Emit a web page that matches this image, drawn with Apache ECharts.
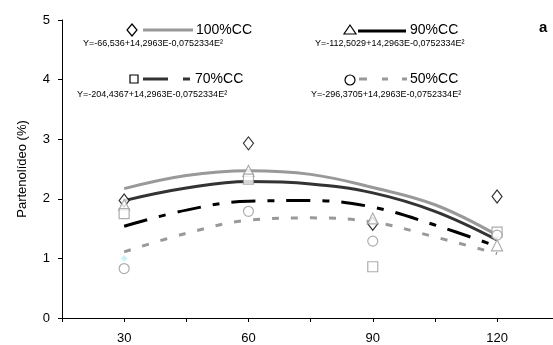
<!DOCTYPE html>
<html>
<head>
<meta charset="utf-8">
<script src="https://cdn.jsdelivr.net/npm/echarts@6/dist/echarts.min.js"></script>
<style>
  html, body { margin: 0; padding: 0; background: #fff; }
  #chart { width: 553px; height: 345px; }
</style>
</head>
<body>
<div id="chart"></div>
<script>
// fitted curves
const fitX = [30, 45, 60, 75, 90, 105, 120]
const fit100 = [2.17, 2.39, 2.47, 2.41, 2.19, 1.90, 1.39]
const fit90 = [1.97, 2.18, 2.29, 2.25, 2.10, 1.79, 1.31]
const fit70 = [1.54, 1.81, 1.96, 1.97, 1.86, 1.56, 1.20]
const fit50 = [1.11, 1.42, 1.64, 1.68, 1.61, 1.36, 1.08]

// observed points
const obsX = [30, 60, 90, 120]
const obs100 = [1.97, 2.93, 1.58, 2.04]
const obs90 = [1.90, 2.47, 1.67, 1.22]
const obs70 = [1.75, 2.33, 0.86, 1.44]
const obs50 = [0.83, 1.79, 1.29, 1.39]
const odd = [[30, 1.0]]

const xLabels = [30, 60, 90, 120]

const pairs = (xs, ys) => xs.map((x, i) => [x, ys[i]])

const font = 'Liberation Sans, Arial, sans-serif'

const curve = (name, ys, color, type) => ({
    name: name,
    type: 'line',
    data: pairs(fitX, ys),
    smooth: 0.4,
    showSymbol: false,
    z: 2,
    lineStyle: { color: color, width: 3, type: type },
    silent: true
})

const dots = (name, ys, symbol, size, color) => ({
    name: name,
    type: 'scatter',
    data: pairs(obsX, ys),
    symbol: symbol,
    symbolSize: size,
    z: 5,
    itemStyle: { color: '#fff', borderColor: color, borderWidth: 1.2 }
})

const legendText = (x, y, text, size, bold) => ({
    type: 'text', left: x, top: y,
    style: { text: text, font: (bold ? 'bold ' : '') + size + 'px ' + font, fill: '#000' }
})

const legendLine = (x1, x2, y, color, dash) => ({
    type: 'line',
    shape: { x1: x1, y1: y, x2: x2, y2: y },
    style: { stroke: color, lineWidth: 3, lineDash: dash }
})

let chart = echarts.init(document.getElementById('chart'))

let option = {
    animation: false,
    grid: { left: 62, top: 20, right: 0, bottom: 25 },
    xAxis: {
        type: 'value',
        min: 15,
        max: 133.5,
        interval: 15,
        splitLine: { show: false },
        axisLine: { lineStyle: { color: '#000', width: 1 } },
        axisTick: { show: true, length: 4, lineStyle: { color: '#000' } },
        axisLabel: {
            margin: 14,
            color: '#000',
            fontSize: 13,
            fontFamily: font,
            showMaxLabel: false,
            formatter: v => xLabels.includes(v) ? String(v) : ''
        }
    },
    yAxis: {
        type: 'value',
        min: 0,
        max: 5,
        interval: 1,
        name: 'Partenolídeo (%)',
        nameLocation: 'middle',
        nameGap: 33,
        nameTextStyle: { color: '#000', fontSize: 13, fontFamily: font },
        splitLine: { show: false },
        axisLine: { show: true, lineStyle: { color: '#000', width: 1 } },
        axisTick: { show: true, length: 4, lineStyle: { color: '#000' } },
        axisLabel: { margin: 12, color: '#000', fontSize: 13, fontFamily: font }
    },
    series: [
        curve('100%CC', fit100, '#999999', 'solid'),
        curve('90%CC', fit90, '#333333', 'solid'),
        curve('70%CC', fit70, '#000000', [24, 12, 7, 12]),
        curve('50%CC', fit50, '#999999', [7, 12]),
        dots('100%CC', obs100, 'diamond', [10, 13], '#000'),
        dots('90%CC', obs90, 'triangle', [11, 11], '#999999'),
        dots('70%CC', obs70, 'rect', [10, 10], '#999999'),
        dots('50%CC', obs50, 'circle', 10, '#999999'),
        {
            type: 'scatter', data: odd, symbol: 'diamond', symbolSize: [7, 7], z: 4,
            itemStyle: { color: '#bff3f8' }
        }
    ],
    graphic: [
        // 100%CC
        { type: 'polygon', shape: { points: [[132, 24], [137, 30], [132, 36], [127, 30]] },
          style: { fill: '#fff', stroke: '#000', lineWidth: 1.2 } },
        legendLine(143, 193, 30, '#999999', null),
        legendText(196, 23, '100%CC', 14),
        legendText(83, 39, 'Y=-66,536+14,2963E-0,0752334E²', 9),
        // 90%CC
        { type: 'polygon', shape: { points: [[350, 25], [356, 34], [344, 34]] },
          style: { fill: '#fff', stroke: '#000', lineWidth: 1.2 } },
        legendLine(358, 406, 31, '#000', null),
        legendText(410, 23, '90%CC', 14),
        legendText(315, 39, 'Y=-112,5029+14,2963E-0,0752334E²', 9),
        // 70%CC
        { type: 'rect', shape: { x: 130, y: 75, width: 8, height: 8 },
          style: { fill: '#fff', stroke: '#000', lineWidth: 1.2 } },
        legendLine(143, 168, 79, '#333333', null),
        legendLine(183, 190, 79, '#333333', null),
        legendText(195, 72, '70%CC', 14),
        legendText(77, 90, 'Y=-204,4367+14,2963E-0,0752334E²', 9),
        // 50%CC
        { type: 'circle', shape: { cx: 350, cy: 80, r: 5 },
          style: { fill: '#fff', stroke: '#000', lineWidth: 1.2 } },
        legendLine(359, 367, 79, '#999999', null),
        legendLine(382, 388, 79, '#999999', null),
        legendLine(402, 407, 79, '#999999', null),
        legendText(410, 72, '50%CC', 14),
        legendText(311, 90, 'Y=-296,3705+14,2963E-0,0752334E²', 9),
        // panel letter
        legendText(539, 20, 'a', 15, true)
    ]
}

chart.setOption(option)
</script>
</body>
</html>
